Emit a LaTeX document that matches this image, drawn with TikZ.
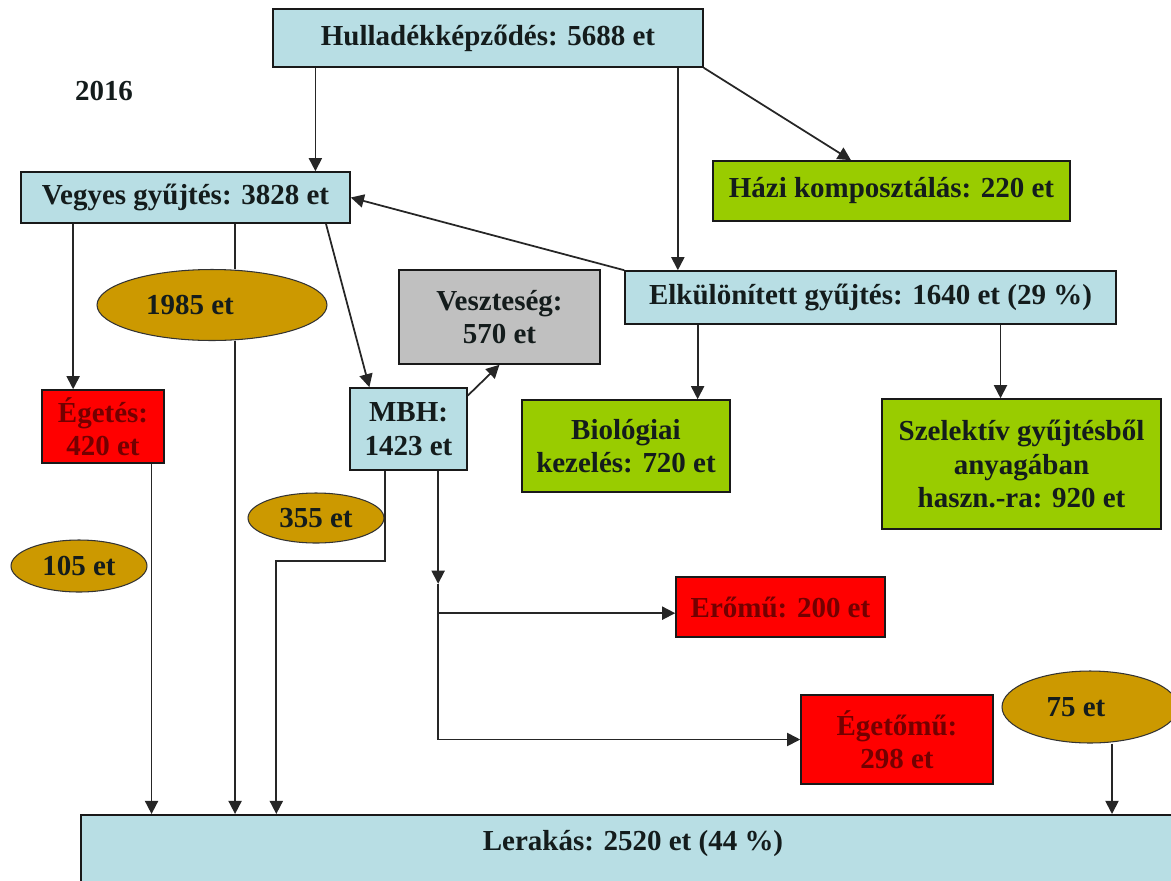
\documentclass[tikz,border=0pt]{standalone}
\usepackage{fontspec}
\setmainfont{Liberation Serif}
\usetikzlibrary{arrows.meta,calc,shapes.geometric}
\definecolor{lb}{RGB}{184,222,228}
\definecolor{gr}{RGB}{153,204,0}
\definecolor{rd}{RGB}{255,0,0}
\definecolor{rdt}{RGB}{115,0,0}
\definecolor{gy}{RGB}{192,192,192}
\definecolor{gd}{RGB}{204,153,0}
\definecolor{tx}{RGB}{20,28,28}
\newcommand{\mainf}{\fontsize{16.5}{19}\selectfont\bfseries}
\begin{document}
\begin{tikzpicture}[x=0.02cm,y=-0.02cm,
  box/.style={draw=black!90, line width=0.9pt, rectangle, inner sep=2pt, align=center, font=\mainf, text=tx},
  bluebox/.style={box, fill=lb},
  greenbox/.style={box, fill=gr},
  redbox/.style={box, fill=rd, text=rdt},
  graybox/.style={box, fill=gy},
  ell/.style={ellipse, draw=black!80, line width=0.6pt, fill=gd, inner sep=0pt, font=\mainf, text=tx},
  arr/.style={-{Triangle[length=7.5pt,width=7.5pt]}, line width=1pt, draw=black!85},
  ln/.style={line width=1pt, draw=black!85}]
\useasboundingbox (0,0) rectangle (1171,880);
\clip (0,0) rectangle (1171,880);

% nodes
\node[bluebox, minimum width=8.6cm, minimum height=1.16cm] (hull) at (488,38) {Hulladékképződés: 5688 et};
\node[font=\mainf, text=tx] (year) at (104,91) {2016};
\node[bluebox, minimum width=6.58cm, minimum height=1.02cm] (vegy) at (185.5,197.5) {Vegyes gyűjtés: 3828 et};
\node[greenbox, minimum width=7.14cm, minimum height=1.2cm] (hazi) at (891.5,191) {Házi komposztálás: 220 et};
\node[bluebox, minimum width=9.82cm, minimum height=1.06cm] (elk) at (870.5,297.5) {Elkülönített gyűjtés: 1640 et (29 \%)};
\node[graybox, minimum width=4.02cm, minimum height=1.88cm] (vesz) at (499.5,317) {Veszteség:\\570 et};
\node[bluebox, minimum width=2.34cm, minimum height=1.64cm] (mbh) at (408.5,429) {MBH:\\1423 et};
\node[greenbox, minimum width=4.16cm, minimum height=1.84cm] (bio) at (626,446) {Biológiai\\kezelés: 720 et};
\node[greenbox, minimum width=5.58cm, minimum height=2.6cm] (szel) at (1021.5,464) {Szelektív gyűjtésből\\anyagában\\haszn.-ra: 920 et};
\node[redbox, minimum width=2.44cm, minimum height=1.46cm] (eget) at (103,426.5) {Égetés:\\420 et};
\node[ell, minimum width=4.6cm, minimum height=1.42cm] (e1985) at (212,305) {\hspace*{-0.88cm}1985 et};
\node[ell, minimum width=2.72cm, minimum height=1.0cm] (e355) at (316,518) {355 et};
\node[ell, minimum width=2.72cm, minimum height=1.04cm] (e105) at (79,566) {105 et};
\node[redbox, minimum width=4.18cm, minimum height=1.2cm] (ero) at (780.5,607) {Erőmű: 200 et};
\node[redbox, minimum width=3.84cm, minimum height=1.78cm] (egm) at (897,739.5) {Égetőmű:\\298 et};
\node[ell, minimum width=3.52cm, minimum height=1.44cm] (e75) at (1090,707) {\hspace*{-0.56cm}75 et};
\node[bluebox, anchor=north, minimum width=22.08cm, text height=0.72cm, text depth=0.9cm, inner sep=0pt] (ler) at (633,814) {Lerakás: 2520 et (44 \%)};

% connectors
\draw[arr] ($(hull.south west)!0.1!(hull.south east)$) coordinate (a1) -- (a1 |- vegy.north);
\draw[arr] ($(hull.south west)!0.94!(hull.south east)$) coordinate (a2) -- (a2 |- elk.north);
\draw[arr] (hull.south east) -- ($(hazi.north west)!0.387!(hazi.north east)$);
\draw[arr] (elk.north west) -- (vegy.east);
\draw[arr] ($(vegy.south west)!0.16!(vegy.south east)$) coordinate (a3) -- (a3 |- eget.north);
\draw[ln] ($(vegy.south west)!0.65!(vegy.south east)$) coordinate (a4) -- (a4 |- e1985.north);
\draw[arr] (a4 |- e1985.south) -- (a4 |- ler.north);
\draw[arr] ($(vegy.south west)!0.925!(vegy.south east)$) -- ($(mbh.north west)!0.17!(mbh.north east)$);
\draw[arr] ($(mbh.north east)!0.1!(mbh.south east)$) -- (vesz.south);
\draw[arr] ($(elk.south west)!0.149!(elk.south east)$) coordinate (a5) -- (a5 |- bio.north);
\draw[arr] ($(elk.south west)!0.764!(elk.south east)$) coordinate (a6) -- (a6 |- szel.north);
\draw[arr] ($(eget.south west)!0.893!(eget.south east)$) coordinate (a7) -- (a7 |- ler.north);
\draw[arr] ($(mbh.south west)!0.3!(mbh.south east)$) -- ++(0,90) -| ($(ler.north west)+(196,0)$);
\draw[arr] ($(mbh.south west)!0.75!(mbh.south east)$) -- ++(0,113) coordinate (j);
\draw[arr] (j) -- (j |- egm.west) -- (egm.west);
\draw[arr] ($(ero.north west)!0.6!(ero.south west)$) coordinate (a9) (a9 -| j) -- (a9);
\draw[arr] ($(e75.south)+(22,0)$) coordinate (a10) -- (a10 |- ler.north);
\end{tikzpicture}
\end{document}
